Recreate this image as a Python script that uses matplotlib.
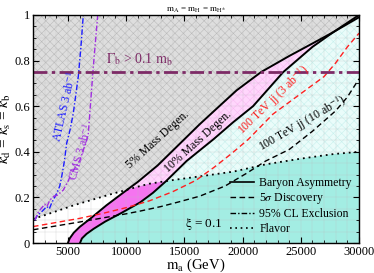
import numpy as np
import matplotlib
matplotlib.use("Agg")
import matplotlib.pyplot as plt
from matplotlib.lines import Line2D
from matplotlib.patches import Polygon
from matplotlib.ticker import MultipleLocator, FuncFormatter

plt.rcParams["font.family"] = ["Liberation Serif", "DejaVu Serif"]
plt.rcParams["mathtext.fontset"] = "stix"
plt.rcParams["hatch.linewidth"] = 0.4

# 5% and 10% mass degeneracy boundaries (baryon asymmetry)
deg5_x = [5000, 5150, 5500, 6000, 7000, 8300, 9600, 11000, 12700, 14500, 16300, 18000,
          19500, 21600, 24000, 26000, 27800, 30000]
deg5_y = [0.0, 0.02, 0.045, 0.07, 0.11, 0.165, 0.215, 0.268, 0.34, 0.43, 0.52, 0.60,
          0.67, 0.75, 0.82, 0.875, 0.925, 1.0]
deg10_x = [6040, 6200, 6600, 7200, 8200, 9600, 11200, 12300, 13400, 15200, 17500, 19200,
           20900, 23500, 26000, 27800, 30000]
deg10_y = [0.0, 0.02, 0.04, 0.062, 0.094, 0.132, 0.178, 0.22, 0.27, 0.36, 0.455, 0.53,
           0.60, 0.75, 0.86, 0.925, 0.99]

# flavor bound
flav_x = [2000, 3000, 5600, 8500, 11000, 12000, 14000, 16300, 19200, 22000, 25000, 27800, 30000]
flav_y = [0.105, 0.122, 0.167, 0.211, 0.247, 0.26, 0.276, 0.292, 0.313, 0.345, 0.37, 0.39, 0.40]

# 100 TeV dijet 5 sigma discovery
jj3_x = [2000, 4000, 6000, 8000, 10000, 12000, 14000, 16000, 17500, 19000, 20500, 22600,
         25000, 27000, 28000, 29000, 30000]
jj3_y = [0.072, 0.09, 0.108, 0.13, 0.155, 0.185, 0.225, 0.275, 0.33, 0.39, 0.455, 0.565,
         0.655, 0.73, 0.79, 0.86, 0.92]
jj10_x = [2000, 4000, 6000, 8000, 10000, 11200, 13000, 14500, 16300, 18500, 20350, 22000,
          24000, 26000, 28000, 29000, 30000]
jj10_y = [0.058, 0.075, 0.092, 0.11, 0.128, 0.14, 0.16, 0.18, 0.205, 0.25, 0.306, 0.36,
          0.41, 0.49, 0.58, 0.64, 0.72]

# HL-LHC 95% CL exclusions
atlas_x = [2170, 2400, 2600, 2900, 3180, 3400, 3600, 4030, 4300, 4460, 4700, 4890, 5200,
           5460, 5890, 6100, 6320]
atlas_y = [0.10, 0.125, 0.13, 0.145, 0.16, 0.15, 0.175, 0.217, 0.25, 0.29, 0.36, 0.437,
           0.5, 0.569, 0.73, 0.85, 1.0]
cms_x = [2170, 2400, 2600, 3000, 3200, 3460, 3800, 4100, 4600, 5000, 5320, 6040, 6320,
         6610, 6750, 6900, 7180, 7560]
cms_y = [0.10, 0.13, 0.145, 0.17, 0.16, 0.189, 0.205, 0.21, 0.232, 0.27, 0.306, 0.364,
         0.408, 0.45, 0.48, 0.583, 0.773, 1.0]

gamma_y = 0.75

C_TURQ = "#a3ede3"
C_LCYAN = "#eafcfa"
C_PINK = "#ffd6fc"
C_MAG = "#f574f0"
C_GRAY = "#dedede"
C_GAMMA = "#7d2a66"
C_BLUE = "#1c1cff"
C_CMS = "#a02ee0"
C_RED = "#ff2020"

fig = plt.figure(figsize=(3.74, 2.73), dpi=100)
ax = fig.add_axes([33 / 374, 30 / 273, 326 / 374, 228 / 273])
ax.set_xlim(2000, 30000)
ax.set_ylim(0, 1)

xx = np.linspace(2000, 30000, 600)
yy = np.linspace(0, 1, 600)
fl = np.interp(xx, flav_x, flav_y)
x5 = np.interp(yy, deg5_y, deg5_x)
x10 = np.interp(yy, deg10_y, deg10_x)

# clip regions above / below the flavor bound
below = Polygon(np.column_stack([np.r_[xx, 30000, 2000], np.r_[fl, 0, 0]]),
                closed=True, transform=ax.transData, visible=False)
above = Polygon(np.column_stack([np.r_[xx, 30000, 2000], np.r_[fl, 1, 1]]),
                closed=True, transform=ax.transData, visible=False)
ax.add_patch(below)
ax.add_patch(above)

ax.fill_between([2000, 30000], 0, 1, facecolor=C_LCYAN, edgecolor="#c8f0ed",
                hatch="xxxx", lw=0, zorder=0)
ax.fill_between(xx, 0, fl, facecolor=C_TURQ, lw=0, zorder=0.5)

p = ax.fill_betweenx(yy, x5, x10, facecolor=C_PINK, edgecolor="#f8bcf2", hatch="xxxx",
                     lw=0, zorder=1)
p.set_clip_path(above)
p = ax.fill_betweenx(yy, x5, x10, facecolor=C_MAG, lw=0, zorder=1)
p.set_clip_path(below)
p = ax.fill_betweenx(yy, 2000, x5, facecolor=C_GRAY, edgecolor="#bababa", hatch="xxxx",
                     lw=0, zorder=1)
p.set_clip_path(above)
p = ax.fill_betweenx(yy, 2000, x5, facecolor="white", lw=0, zorder=1)
p.set_clip_path(below)

ax.grid(True, which="both", color="#bdbdbd", lw=0.3, alpha=0.6, zorder=1.5)
ax.set_axisbelow(False)

ax.plot(deg5_x, deg5_y, color="black", lw=1.4, zorder=3)
ax.plot(deg10_x, deg10_y, color="black", lw=1.4, zorder=3)
ax.plot(flav_x, flav_y, color="black", lw=1.3, ls=(0, (1, 2.2)), zorder=3)
ax.plot(jj3_x, jj3_y, color=C_RED, lw=1.0, ls=(0, (4, 2.5)), zorder=3)
ax.plot(jj10_x, jj10_y, color="black", lw=1.0, ls=(0, (4, 2.5)), zorder=3)
ax.plot(atlas_x, atlas_y, color=C_BLUE, lw=1.0, ls=(0, (4, 1.5, 1, 1.5)), zorder=3)
ax.plot(cms_x, cms_y, color=C_CMS, lw=1.0, ls=(0, (4, 1.5, 1, 1.5)), zorder=3)
ax.axhline(gamma_y, color=C_GAMMA, lw=2.0, ls=(0, (5, 1.6, 1.2, 1.6)), zorder=3)

ax.text(8300, 0.785, r"$\Gamma_\mathrm{b}$ > 0.1 $\mathrm{m_b}$", color=C_GAMMA,
        fontsize=10, zorder=4)
ax.text(12700, 0.455, "5% Mass Degen.", fontsize=8.5, rotation=42, ha="center",
        va="center", zorder=4)
ax.text(16200, 0.445, "10% Mass Degen.", fontsize=8.5, rotation=42, ha="center",
        va="center", zorder=4)
ax.text(22700, 0.625, r"100 TeV jj (3 ab$^{-1}$)", color=C_RED, fontsize=8.5, rotation=44,
        ha="center", va="center", zorder=4)
ax.text(25200, 0.525, r"100 TeV jj (10 ab$^{-1}$)", fontsize=8.5, rotation=30, ha="center",
        va="center", zorder=4)
ax.text(4750, 0.6, r"ATLAS 3 ab$^{-1}$", color=C_BLUE, fontsize=8.5, rotation=77,
        ha="center", va="center", zorder=4)
ax.text(6150, 0.4, r"CMS 3 ab$^{-1}$", color=C_CMS, fontsize=8.5, rotation=74,
        ha="center", va="center", zorder=4)
ax.text(16700, 0.085, r"$\mathrm{\xi}$ = 0.1", fontsize=9.5, ha="center", va="center",
        zorder=4)

ax.set_title(r"$\mathrm{m_A}$ = $\mathrm{m_H}$ = $\mathrm{m_{H^{\pm}}}$", fontsize=6.5, pad=2)
ax.set_xlabel(r"$\mathrm{m_a}$ (GeV)", fontsize=10.5, labelpad=-1)
ax.set_ylabel(r"$\kappa_\mathrm{d}$ = $\kappa_\mathrm{s}$ = $\kappa_\mathrm{b}$",
              fontsize=11, labelpad=1)

ax.xaxis.set_major_locator(MultipleLocator(5000))
ax.xaxis.set_minor_locator(MultipleLocator(1000))
ax.yaxis.set_major_locator(MultipleLocator(0.2))
ax.yaxis.set_minor_locator(MultipleLocator(0.05))
ax.yaxis.set_major_formatter(FuncFormatter(lambda v, _: f"{v:g}"))
ax.tick_params(which="both", direction="in", top=True, right=True, labelsize=9, pad=2)
ax.tick_params(which="major", length=4, width=0.8)
ax.tick_params(which="minor", length=2, width=0.6)
for s in ax.spines.values():
    s.set_linewidth(1.0)
    s.set_zorder(5)

handles = [
    Line2D([], [], color="black", lw=1.2, ls="-"),
    Line2D([], [], color="black", lw=1.0, ls=(0, (4, 2.5))),
    Line2D([], [], color="black", lw=1.0, ls=(0, (4, 1.5, 1, 1.5))),
    Line2D([], [], color="black", lw=1.2, ls=(0, (1, 2.2))),
]
labels = ["Baryon Asymmetry", r"5$\sigma$ Discovery", "95% CL Exclusion", "Flavor"]
leg = ax.legend(handles, labels, loc="lower right", bbox_to_anchor=(1.0, 0.005),
                frameon=False, fontsize=8.5, handlelength=2.0, handletextpad=0.5,
                labelspacing=0.2, borderaxespad=0.2)
leg.set_zorder(6)

fig.savefig("out.png", dpi=100)
